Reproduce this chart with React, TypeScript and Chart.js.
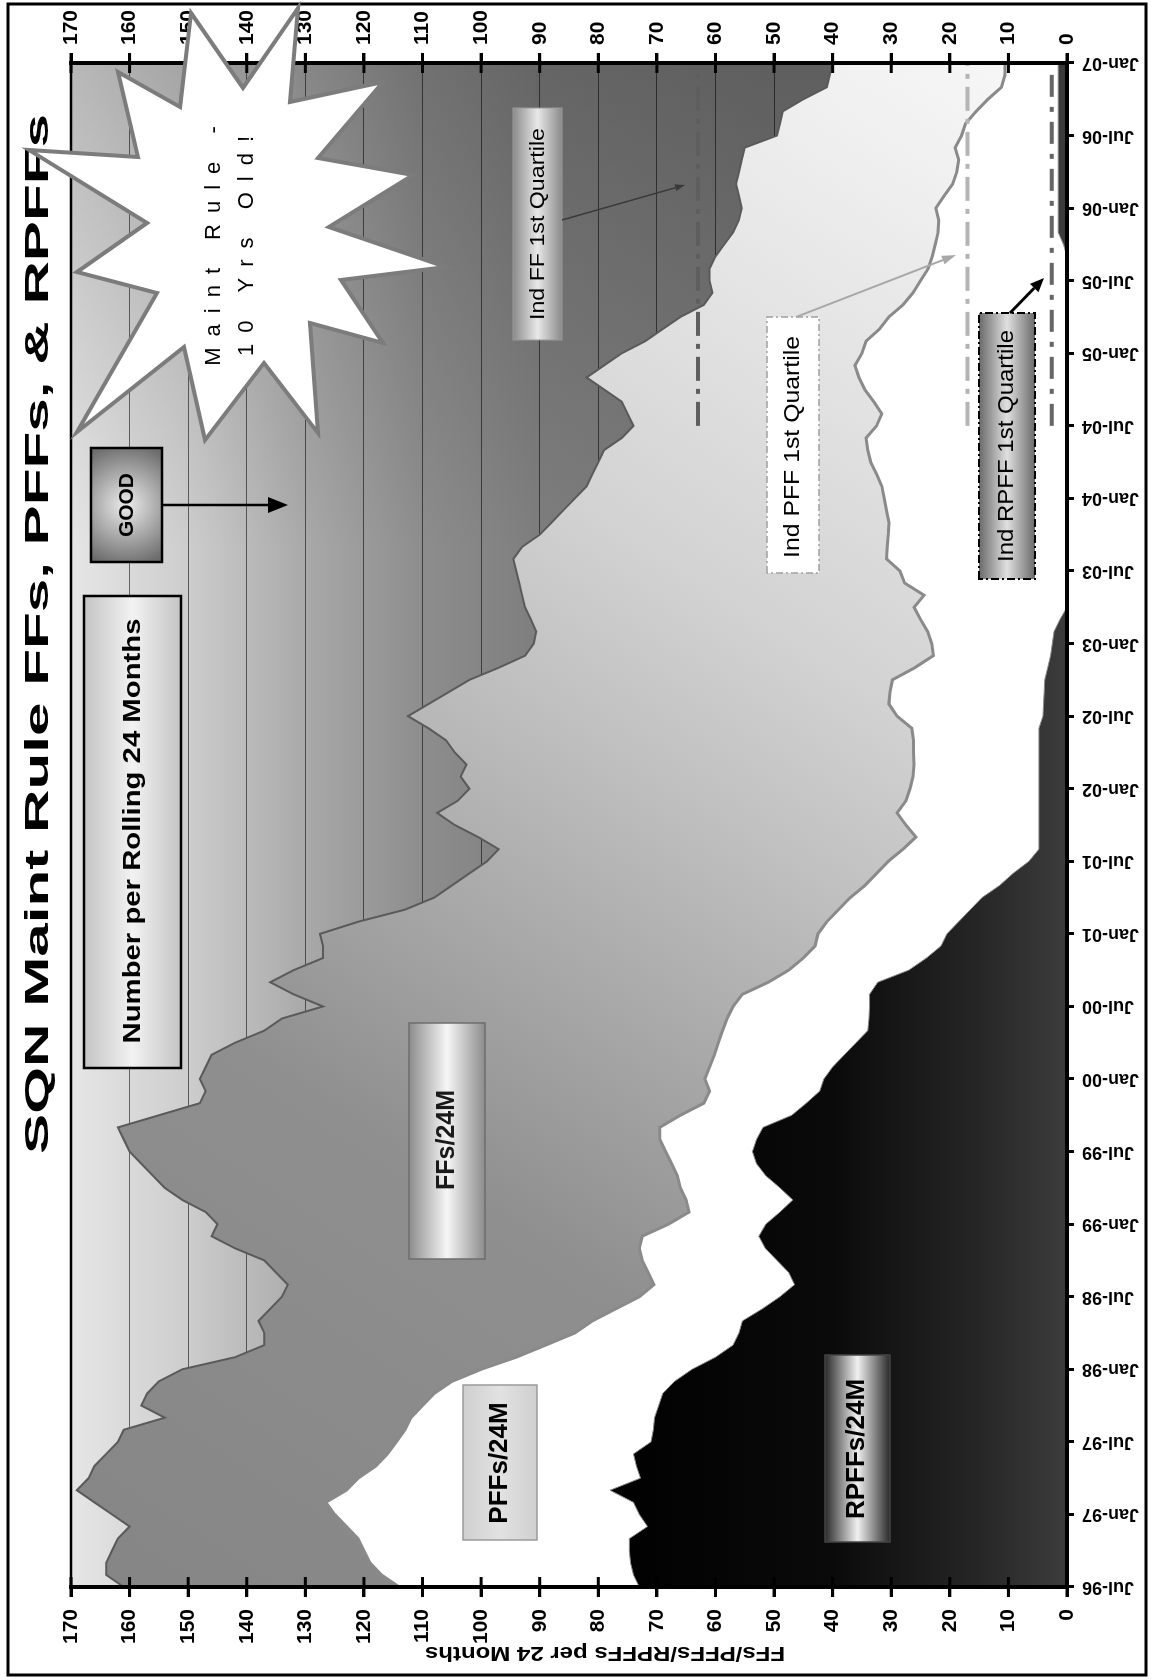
import React, { useEffect, useRef } from 'react';
import { Chart, registerables } from 'chart.js';

Chart.register(...registerables);

// ---------------- data ----------------
const DATE_TICKS = ['Jul-96', 'Jan-97', 'Jul-97', 'Jan-98', 'Jul-98', 'Jan-99', 'Jul-99', 'Jan-00', 'Jul-00', 'Jan-01', 'Jul-01',
  'Jan-02', 'Jul-02', 'Jan-03', 'Jul-03', 'Jan-04', 'Jul-04', 'Jan-05', 'Jul-05', 'Jan-06', 'Jul-06', 'Jan-07'];
const MONTHS_PER_TICK = 6;
const VALUE_MAX = 170;
const VALUE_STEP = 10;

// monthly values, Jul-96 .. Jan-07 (127 months)
const FF_24M = [
  161, 164, 164, 163, 162, 160, 163, 166, 169, 167,
  166, 164, 162, 161, 154, 158, 157, 155, 151, 142,
  137, 137, 138, 136, 134, 133, 135, 137, 142, 146,
  145, 147, 151, 154, 156, 158, 160, 161, 162, 155,
  148, 147, 148, 147, 146, 142, 137, 134, 127, 132,
  136, 132, 127, 127, 127.5, 121, 113, 108, 105, 102,
  99, 97, 100.5, 104.5, 107.5, 104, 102, 103.5, 102.5, 104.5,
  106, 109, 112.5, 109, 105.5, 102, 97, 92.5, 91, 90.6,
  91.5, 92.5, 93, 93.5, 94, 94.5, 93, 90, 88, 86,
  84, 82, 81, 80, 79, 76, 74, 75, 76, 79,
  82, 79, 76, 72, 69, 66, 62, 60.5, 61, 61,
  60, 58.5, 57, 56, 55.5, 56, 56.5, 56, 55.5, 55,
  49.5, 49, 48.5, 45, 41, 40.5, 40,
];
const PFF_24M = [
  114, 117, 119, 120, 121, 123, 125, 126.5, 123, 121,
  118, 116, 114.5, 113, 112, 110, 108, 105, 100, 94,
  89, 84, 81, 77, 73, 70.5, 71.5, 72.5, 73, 72.5,
  68, 64.5, 65, 66, 66.5, 67.5, 68.5, 69.5, 69.5, 66,
  62, 61, 61.8, 61, 60.2, 59.5, 58.8, 58, 57, 55.4,
  51, 47.5, 45, 43, 42.5, 41, 39, 37, 34.5, 32.5,
  30.5, 28, 25.8, 27.5, 29, 27.5, 26.8, 26.3, 26.1, 26.2,
  26.2, 26.5, 29, 30.4, 30.2, 29.8, 26, 22.8, 23.1, 23.8,
  25, 26.1, 24.4, 27.7, 28.5, 30.8, 30.7, 30.5, 30.4, 30.8,
  31.2, 31.6, 32.5, 33.5, 34, 34.3, 32.5, 31.6, 33, 34.5,
  35.5, 36.2, 35, 34.3, 32, 30.4, 28, 26.3, 25, 23.7,
  23, 22.5, 22, 21.9, 22.4, 21, 19.5, 18.8, 18.5, 19.1,
  18, 17.3, 15.5, 13.5, 11.2, 10.6, 10.6,
];
const RPFF_24M = [
  73, 74, 74.5, 74.7, 74.7, 71.6, 73, 74, 78, 72.8,
  73.5, 74, 71, 70.6, 70.4, 69.7, 69, 67, 64, 60,
  57, 56, 55.4, 52, 49, 46.5, 47.5, 49.5, 51.5, 52.6,
  51.4, 49, 46.8, 49, 51.4, 53, 53.7, 53, 51.9, 47,
  44.5, 42.2, 41.5, 40, 38, 36, 34, 33.8, 33.7, 33.7,
  32.3, 27, 24, 21.5, 20.5, 18.5, 16.5, 14.5, 11.5, 9.2,
  6.5, 4.8, 4.8, 4.8, 4.8, 4.8, 4.8, 4.8, 4.8, 4.8,
  4.8, 4.8, 4.1, 4, 3.9, 3.8, 3.3, 2.8, 2.5, 2.2,
  1.2, 0, 0, 0, 0, 0, 0, 0, 0, 0,
  0, 0, 0, 0, 0, 0, 0, 0, 0, 0,
  0, 0, 0, 0, 0, 0, 0, 0, 0, 0,
  0, 0.6, 1.5, 1.5, 1.5, 1.5, 1.5, 1.5, 1.5, 1.5,
  1.5, 1.5, 1.5, 1.5, 1.5, 1.5, 1.5,
];
const IND_FF_Q1 = 63;
const IND_PFF_Q1 = 17;
const IND_RPFF_Q1 = 2.6;
const QUARTILE_FROM = 'Jul-04';
const QUARTILE_TO = 'Jan-07';

// ---------------- styles / layout (original, un-rotated landscape frame) ----------------
const W = 1680;
const H = 1153;
const FONT = '"Liberation Sans", Arial, Helvetica, sans-serif';

const BG_STOPS: [number, string][] = [[170, '#e6e6e6'], [150, '#cdcdcd'], [130, '#a9a9a9'], [110, '#8d8d8d'], [90, '#7e7e7e'], [50, '#767676'], [0, '#767676']];
const FF_DIAG_STOPS: [number, string][] = [[0, '#858585'], [0.3, '#8f8f8f'], [0.45, '#acacac'], [0.55, '#c0c0c0'], [0.65, '#d2d2d2'], [0.78, '#e2e2e2'], [0.9, '#efefef'], [1, '#f8f8f8']];
const RPFF_STOPS: [number, string][] = [[80, '#000000'], [40, '#0a0a0a'], [15, '#262626'], [0, '#3c3c3c']];

const STAR: [number, number][] = [
  [1672, 298], [1578, 290], [1598, 383], [1522, 318], [1505, 413], [1453, 329], [1413, 446], [1400, 341],
  [1337, 383], [1357, 310], [1247, 318], [1317, 264], [1240, 205], [1333, 184], [1248, 77], [1387, 157],
  [1408, 77], [1457, 147], [1530, 29], [1523, 138], [1608, 118], [1573, 180], [1667, 191], [1592, 243],
];

function valueGradient(chart: any, stops: [number, string][]) {
  const a = chart.chartArea;
  const y = chart.scales.y;
  const g = chart.ctx.createLinearGradient(0, a.top, 0, a.bottom);
  for (const [v, c] of stops) {
    const t = (y.getPixelForValue(v) - a.top) / (a.bottom - a.top);
    g.addColorStop(Math.min(1, Math.max(0, t)), c);
  }
  return g;
}

function diagGradient(chart: any, stops: [number, string][]) {
  const a = chart.chartArea;
  const g = chart.ctx.createLinearGradient(a.left, a.top, a.right, a.bottom);
  for (const [t, c] of stops) g.addColorStop(t, c);
  return g;
}

function seg(ctx: CanvasRenderingContext2D, x1: number, y1: number, x2: number, y2: number) {
  ctx.beginPath();
  ctx.moveTo(x1, y1);
  ctx.lineTo(x2, y2);
  ctx.stroke();
}

function drawText(ctx: CanvasRenderingContext2D, str: string, x: number, y: number, font: string, color: string, width?: number, spacing?: number) {
  ctx.save();
  ctx.font = font;
  ctx.fillStyle = color;
  ctx.textAlign = 'center';
  ctx.textBaseline = 'middle';
  if (spacing) (ctx as any).letterSpacing = spacing + 'px';
  ctx.translate(x + (spacing ? spacing / 2 : 0), y);
  if (width) {
    const m = ctx.measureText(str).width;
    ctx.scale(width / m, 1);
  }
  ctx.fillText(str, 0, 0);
  ctx.restore();
}

function bandGradient(ctx: CanvasRenderingContext2D, y: number, h: number, edge: string, mid: string) {
  const g = ctx.createLinearGradient(0, y, 0, y + h);
  g.addColorStop(0, edge);
  g.addColorStop(0.5, mid);
  g.addColorStop(1, edge);
  return g;
}

function drawBox(ctx: CanvasRenderingContext2D, x: number, y: number, w: number, h: number,
  fill: string | CanvasGradient, stroke: string | null, lw: number, dash?: number[]) {
  ctx.save();
  ctx.fillStyle = fill;
  ctx.fillRect(x, y, w, h);
  if (stroke) {
    ctx.strokeStyle = stroke;
    ctx.lineWidth = lw;
    if (dash) ctx.setLineDash(dash);
    ctx.strokeRect(x, y, w, h);
  }
  ctx.restore();
}

function arrow(ctx: CanvasRenderingContext2D, x1: number, y1: number, x2: number, y2: number, color: string, lw: number, hl: number, hw: number) {
  const ang = Math.atan2(y2 - y1, x2 - x1);
  const bx = x2 - hl * Math.cos(ang);
  const by = y2 - hl * Math.sin(ang);
  ctx.save();
  ctx.strokeStyle = color;
  ctx.lineWidth = lw;
  seg(ctx, x1, y1, bx, by);
  ctx.fillStyle = color;
  ctx.beginPath();
  ctx.moveTo(x2, y2);
  ctx.lineTo(bx + (hw / 2) * Math.sin(ang), by - (hw / 2) * Math.cos(ang));
  ctx.lineTo(bx - (hw / 2) * Math.sin(ang), by + (hw / 2) * Math.cos(ang));
  ctx.closePath();
  ctx.fill();
  ctx.restore();
}

const decor = {
  id: 'decor',
  beforeDraw(chart: any) {
    const { ctx, chartArea: a } = chart;
    ctx.save();
    ctx.fillStyle = '#ffffff';
    ctx.fillRect(0, 0, W, H);
    ctx.fillStyle = valueGradient(chart, BG_STOPS);
    ctx.fillRect(a.left, a.top, a.right - a.left, a.bottom - a.top);
    const h = ctx.createLinearGradient(a.left, 0, a.right, 0);
    h.addColorStop(0, 'rgba(0,0,0,0)');
    h.addColorStop(0.68, 'rgba(0,0,0,0)');
    h.addColorStop(1, 'rgba(0,0,0,0.2)');
    ctx.fillStyle = h;
    ctx.fillRect(a.left, a.top, a.right - a.left, a.bottom - a.top);
    ctx.restore();
  },
  afterDatasetsDraw(chart: any) {
    const { ctx, chartArea: a, scales } = chart;
    const y = scales.y;
    ctx.save();
    ctx.strokeStyle = '#000';
    ctx.lineWidth = 3;
    for (let v = 0; v <= VALUE_MAX; v += VALUE_STEP) {
      const p = y.getPixelForValue(v);
      seg(ctx, a.left - 10, p, a.left + 10, p);
      seg(ctx, a.right - 10, p, a.right + 10, p);
    }
    ctx.lineWidth = 2.5;
    seg(ctx, a.left, a.top, a.right, a.top);
    ctx.lineWidth = 4;
    seg(ctx, a.left, a.top - 2, a.left, a.bottom + 2);
    seg(ctx, a.right, a.top - 2, a.right, a.bottom + 2);
    seg(ctx, a.left - 2, a.bottom, a.right + 2, a.bottom);
    ctx.restore();
  },
  afterDraw(chart: any) {
    const ctx: CanvasRenderingContext2D = chart.ctx;
    ctx.save();
    // outer frame
    ctx.strokeStyle = '#000';
    ctx.lineWidth = 3;
    ctx.strokeRect(5, 8, 1671, 1138);

    // title
    drawText(ctx, 'SQN Maint Rule FFs, PFFs, & RPFFs', 1046, 39, `bold 34px ${FONT}`, '#000', 1040);

    // y axis title (rotated like a normal left axis title)
    ctx.save();
    ctx.translate(27, 605);
    ctx.rotate(-Math.PI / 2);
    drawText(ctx, 'FFs/PFFs/RPFFs per 24 Months', 0, 0, `bold 21px ${FONT}`, '#000', 360);
    ctx.restore();

    // Number per rolling box
    drawBox(ctx, 612, 84, 472, 97, bandGradient(ctx, 84, 97, '#c4c4c4', '#f2f2f2'), '#000', 2.5);
    drawText(ctx, 'Number per Rolling 24 Months', 849, 133, `bold 24px ${FONT}`, '#000', 425);

    // GOOD box + arrow
    const rg = ctx.createRadialGradient(1175, 126, 5, 1175, 126, 62);
    rg.addColorStop(0, '#e2e2e2');
    rg.addColorStop(1, '#6c6c6c');
    drawBox(ctx, 1118, 91, 114, 71, rg, '#000', 2.5);
    drawText(ctx, 'GOOD', 1175, 127, `bold 20px ${FONT}`, '#000', 64);
    arrow(ctx, 1175, 162, 1175, 288, '#000', 2.5, 20, 16);

    // star
    ctx.save();
    ctx.beginPath();
    STAR.forEach(([u, v], i) => (i ? ctx.lineTo(u, v) : ctx.moveTo(u, v)));
    ctx.closePath();
    ctx.fillStyle = '#ffffff';
    ctx.fill();
    ctx.strokeStyle = '#7c7c7c';
    ctx.lineWidth = 4;
    ctx.lineJoin = 'miter';
    ctx.stroke();
    ctx.restore();
    drawText(ctx, 'Maint Rule -', 1434, 214, `22px ${FONT}`, '#000', undefined, 11);
    drawText(ctx, '10 Yrs Old!', 1434, 247, `22px ${FONT}`, '#000', undefined, 11);

    // Ind FF 1st quartile
    drawBox(ctx, 1340, 513, 232, 49, bandGradient(ctx, 513, 49, '#8a8a8a', '#e8e8e8'), '#9a9a9a', 1);
    drawText(ctx, 'Ind FF 1st Quartile', 1456, 538, `21px ${FONT}`, '#000', 192);
    arrow(ctx, 1460, 562, 1495, 685, '#3a3a3a', 1.5, 10, 7);

    // Ind PFF 1st quartile
    drawBox(ctx, 1107, 767, 256, 52, '#ffffff', '#a0a0a0', 1.5, [7, 3, 2, 3]);
    drawText(ctx, 'Ind PFF 1st Quartile', 1233, 793, `22px ${FONT}`, '#000', 222);
    arrow(ctx, 1363, 796, 1425, 956, '#a8a8a8', 2, 14, 9);

    // Ind RPFF 1st quartile
    drawBox(ctx, 1101, 979, 266, 56, bandGradient(ctx, 979, 56, '#6a6a6a', '#e0e0e0'), '#000', 2, [8, 3, 2, 3]);
    drawText(ctx, 'Ind RPFF 1st Quartile', 1234, 1007, `22px ${FONT}`, '#000', 232);
    arrow(ctx, 1367, 1010, 1402, 1044, '#000', 3, 14, 12);

    // series labels
    drawBox(ctx, 421, 409, 236, 76, bandGradient(ctx, 409, 76, '#8c8c8c', '#f6f6f6'), '#6e6e6e', 1.5);
    drawText(ctx, 'FFs/24M', 540, 447, `bold 25px ${FONT}`, '#1a1a1a');
    drawBox(ctx, 140, 463, 155, 74, bandGradient(ctx, 463, 74, '#cfcfcf', '#e2e2e2'), '#9a9a9a', 1.5);
    drawText(ctx, 'PFFs/24M', 217, 500, `bold 26px ${FONT}`, '#000');
    drawBox(ctx, 138, 825, 187, 65, bandGradient(ctx, 825, 65, '#2a2a2a', '#f0f0f0'), '#444', 1.5);
    drawText(ctx, 'RPFFs/24M', 231, 857, `bold 26px ${FONT}`, '#000');

    ctx.restore();
  },
};

function pts(values: number[]) {
  return values.map((y, i) => ({ x: i, y }));
}

export default function App() {
  const ref = useRef<HTMLCanvasElement>(null);

  useEffect(() => {
    const qFrom = DATE_TICKS.indexOf(QUARTILE_FROM) * MONTHS_PER_TICK;
    const qTo = DATE_TICKS.indexOf(QUARTILE_TO) * MONTHS_PER_TICK;
    const lastMonth = (DATE_TICKS.length - 1) * MONTHS_PER_TICK;
    const quart = (v: number) => [{ x: qFrom, y: v }, { x: qTo, y: v }];
    const tickFont = { family: FONT, size: 21, weight: 'bold' as const };

    const chart = new Chart(ref.current as HTMLCanvasElement, {
      type: 'line',
      data: {
        datasets: [
          { label: 'Ind FF 1st Quartile', data: quart(IND_FF_Q1), borderColor: '#5e5e5e', borderWidth: 4, borderDash: [24, 8, 5, 8], pointRadius: 0, fill: false },
          { label: 'Ind PFF 1st Quartile', data: quart(IND_PFF_Q1), borderColor: '#b4b4b4', borderWidth: 4, borderDash: [24, 8, 5, 8], pointRadius: 0, fill: false },
          { label: 'Ind RPFF 1st Quartile', data: quart(IND_RPFF_Q1), borderColor: '#666666', borderWidth: 4, borderDash: [22, 10, 5, 10], pointRadius: 0, fill: false },
          {
            label: 'RPFFs/24M', data: pts(RPFF_24M), borderColor: '#8a8a8a', borderWidth: 1, pointRadius: 0, fill: 'origin',
            backgroundColor: (c: any) => (c.chart.chartArea ? valueGradient(c.chart, RPFF_STOPS) : '#000'),
          },
          { label: 'PFFs/24M', data: pts(PFF_24M), borderColor: '#8a8a8a', borderWidth: 3, pointRadius: 0, fill: 'origin', backgroundColor: '#ffffff' },
          {
            label: 'FFs/24M', data: pts(FF_24M), borderColor: '#5a5a5a', borderWidth: 2, pointRadius: 0, fill: 'origin',
            backgroundColor: (c: any) => (c.chart.chartArea ? diagGradient(c.chart, FF_DIAG_STOPS) : '#999'),
          },
        ],
      },
      options: {
        responsive: false,
        animation: false,
        devicePixelRatio: 1,
        layout: { padding: { top: 71, left: 0, right: 0, bottom: 0 } },
        plugins: { legend: { display: false }, tooltip: { enabled: false }, title: { display: false } },
        elements: { line: { tension: 0 } },
        scales: {
          x: {
            type: 'linear', position: 'bottom', min: 0, max: lastMonth,
            ticks: {
              stepSize: MONTHS_PER_TICK, autoSkip: false, minRotation: 90, maxRotation: 90, padding: 8, color: '#000',
              font: { family: FONT, size: 18, weight: 'bold' },
              callback: (v: any) => DATE_TICKS[Math.round(Number(v) / MONTHS_PER_TICK)] ?? '',
            },
            grid: { display: true, drawOnChartArea: false, drawTicks: true, tickLength: 7, tickWidth: 3, tickColor: '#000', color: '#000' },
            border: { display: false },
            afterFit: (s: any) => { s.height = 86; },
          },
          y: {
            type: 'linear', position: 'left', min: 0, max: VALUE_MAX,
            ticks: { stepSize: VALUE_STEP, padding: 12, color: '#000', font: tickFont },
            grid: { color: 'rgba(0,0,0,0.55)', lineWidth: 1, drawTicks: true, tickLength: 10, tickWidth: 3, tickColor: '#000' },
            border: { display: false },
            afterFit: (s: any) => { s.width = 93; },
          },
          y2: {
            type: 'linear', position: 'right', min: 0, max: VALUE_MAX,
            ticks: { stepSize: VALUE_STEP, padding: 8, color: '#000', font: tickFont },
            grid: { drawOnChartArea: false, drawTicks: true, tickLength: 10, tickWidth: 3, tickColor: '#000' },
            border: { display: false },
            afterFit: (s: any) => { s.width = 63; },
          },
        },
      },
      plugins: [decor],
    } as any);
    return () => chart.destroy();
  }, []);

  return (
    <div style={{ position: 'absolute', left: 0, top: 0, width: 1153, height: 1680, overflow: 'hidden', background: '#fff' }}>
      <div
        style={{
          position: 'absolute', left: 0, top: 0, width: W, height: H,
          transformOrigin: '0 0', transform: `translateY(${W}px) rotate(-90deg)`,
        }}
      >
        <canvas ref={ref} width={W} height={H} style={{ display: 'block', width: W, height: H }} />
      </div>
    </div>
  );
}
